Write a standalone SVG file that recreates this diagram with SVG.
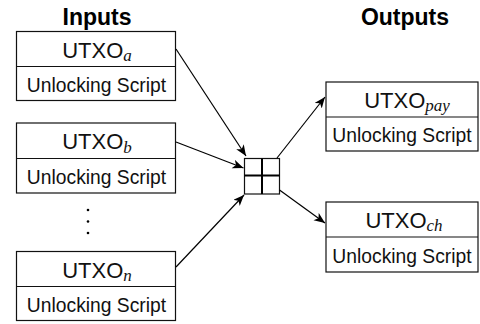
<svg xmlns="http://www.w3.org/2000/svg" width="480" height="324" viewBox="0 0 480 324">
  <style>
    .box { fill: #fff; stroke: #111; stroke-width: 1.2; }
    .div { stroke: #111; stroke-width: 1.2; }
    .title { font-family: "Liberation Sans", Arial, sans-serif; font-weight: bold; font-size: 23px; fill: #000; text-anchor: middle; }
    .utxo { font-family: "Liberation Sans", Arial, sans-serif; font-size: 22px; fill: #111; text-anchor: middle; }
    .sub { font-family: "Liberation Serif", "Times New Roman", serif; font-style: italic; font-size: 17px; }
    .script { font-family: "Liberation Sans", Arial, sans-serif; font-size: 19.3px; fill: #111; text-anchor: middle; }
    .edge { stroke: #000; stroke-width: 1.2; fill: none; marker-end: url(#arrow); }
    .plus { stroke: #000; stroke-width: 2; }
    .dot { fill: #000; }
  </style>
  <defs>
    <marker id="arrow" markerUnits="userSpaceOnUse" markerWidth="12" markerHeight="10" refX="11" refY="4.5" orient="auto">
      <path d="M0,0 L11,4.5 L0,9 L3,4.5 z" fill="#000"/>
    </marker>
  </defs>

  <text class="title" x="97" y="25">Inputs</text>
  <text class="title" x="405" y="25">Outputs</text>

  <g id="utxo-a">
    <rect class="box" x="16.5" y="31.5" width="159" height="69"/>
    <line class="div" x1="16.5" y1="66.5" x2="175.5" y2="66.5"/>
    <text class="utxo" x="97" y="57.5">UTXO<tspan class="sub" dy="3.5">a</tspan></text>
    <text class="script" x="96.5" y="91.5">Unlocking Script</text>
  </g>

  <g id="utxo-b">
    <rect class="box" x="16.5" y="123" width="159" height="70"/>
    <line class="div" x1="16.5" y1="158.5" x2="175.5" y2="158.5"/>
    <text class="utxo" x="97" y="149">UTXO<tspan class="sub" dy="3.5">b</tspan></text>
    <text class="script" x="96.5" y="184">Unlocking Script</text>
  </g>

  <g id="ellipsis">
    <circle class="dot" cx="88" cy="210" r="1.3"/>
    <circle class="dot" cx="88" cy="221.5" r="1.3"/>
    <circle class="dot" cx="88" cy="233" r="1.3"/>
  </g>

  <g id="utxo-n">
    <rect class="box" x="16.5" y="251.5" width="159" height="69"/>
    <line class="div" x1="16.5" y1="286.5" x2="175.5" y2="286.5"/>
    <text class="utxo" x="97" y="277.5">UTXO<tspan class="sub" dy="3.5">n</tspan></text>
    <text class="script" x="96.5" y="311.5">Unlocking Script</text>
  </g>

  <g id="combiner">
    <rect class="box" x="244.5" y="158.5" width="35" height="35.5"/>
    <line class="plus" x1="244.5" y1="175.5" x2="279.5" y2="175.5"/>
    <line class="plus" x1="262" y1="158.5" x2="262" y2="194"/>
  </g>

  <g id="utxo-pay">
    <rect class="box" x="326" y="82" width="152" height="69"/>
    <line class="div" x1="326" y1="117" x2="478" y2="117"/>
    <text class="utxo" x="407" y="107.5">UTXO<tspan class="sub" dy="3.5">pay</tspan></text>
    <text class="script" x="402" y="142">Unlocking Script</text>
  </g>

  <g id="utxo-ch">
    <rect class="box" x="326" y="202" width="152" height="70"/>
    <line class="div" x1="326" y1="237" x2="478" y2="237"/>
    <text class="utxo" x="404" y="227.5">UTXO<tspan class="sub" dy="3.5">ch</tspan></text>
    <text class="script" x="402" y="262.5">Unlocking Script</text>
  </g>

  <g id="connectors">
    <line class="edge" x1="176" y1="49" x2="246" y2="156"/>
    <line class="edge" x1="176" y1="142" x2="243.5" y2="168"/>
    <line class="edge" x1="176" y1="267" x2="244" y2="195"/>
    <line class="edge" x1="277" y1="158" x2="325" y2="97"/>
    <line class="edge" x1="279.5" y1="190" x2="325" y2="223"/>
  </g>
</svg>
